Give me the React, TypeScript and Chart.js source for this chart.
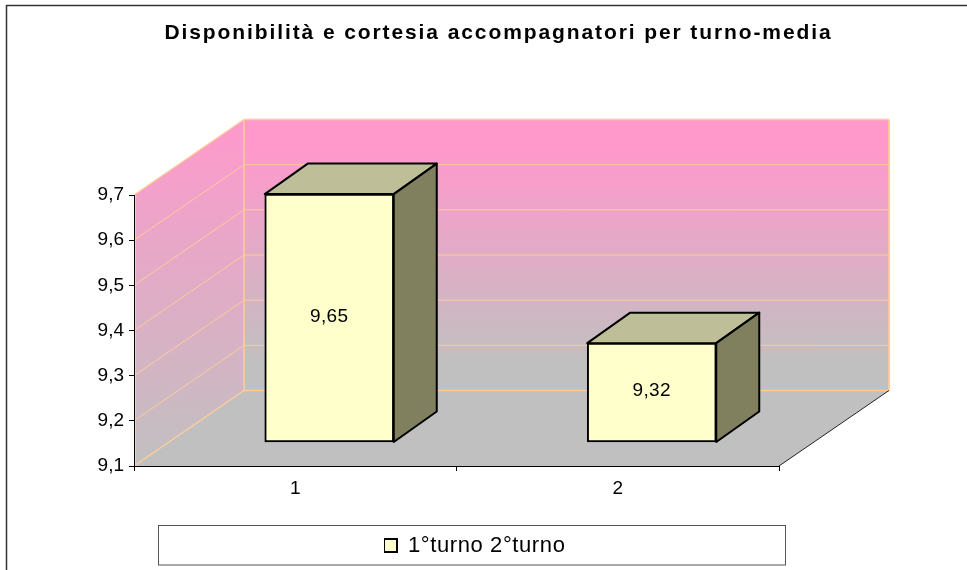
import React, { useEffect, useRef } from "react";
import { Chart, registerables } from "chart.js";

Chart.register(...registerables);

const categories = ["1", "2"];
const seriesName = "1°turno 2°turno";
const seriesValues = [9.65, 9.32];
const yMin = 9.1;
const yMax = 9.7;
const yStep = 0.1;
const chartTitle = "Disponibilità e cortesia accompagnatori per turno-media";

const FONT = "'Liberation Sans', Arial, sans-serif";
const ORANGE = "#FFCC99";
const WALL_DX = 110;
const WALL_DY = -75.5;
const BAR_SHIFT_X = 34;
const BAR_SHIFT_Y = -23.5;
const BAR_DX = 43;
const BAR_DY = -30.5;

function line(ctx: any, x1: number, y1: number, x2: number, y2: number, color: string, w: number) {
  ctx.beginPath();
  ctx.moveTo(x1, y1);
  ctx.lineTo(x2, y2);
  ctx.strokeStyle = color;
  ctx.lineWidth = w;
  ctx.stroke();
}

function poly(ctx: any, pts: number[][], fill: any) {
  ctx.beginPath();
  pts.forEach((p, i) => (i ? ctx.lineTo(p[0], p[1]) : ctx.moveTo(p[0], p[1])));
  ctx.closePath();
  ctx.fillStyle = fill;
  ctx.fill();
}

function wrapSpacing(box: any, spacing: string, ctx: any) {
  const original = box.draw.bind(box);
  box.draw = (...args: any[]) => {
    ctx.save();
    ctx.letterSpacing = spacing;
    original(...args);
    ctx.restore();
  };
}

const scene3d = {
  id: "scene3d",
  afterLayout(chart: any) {
    const legend = chart.legend;
    legend.left = 384;
    legend.right = 785;
    legend.top = 534.5;
    legend.bottom = 556.5;
    const title = chart.titleBlock;
    title.left = 0;
    title.right = 997;
  },
  beforeDraw(chart: any) {
    const { ctx, scales } = chart;
    const x = scales.x;
    const y = scales.y;
    const L = x.left;
    const R = x.right;
    const T = y.top;
    const B = y.bottom;
    ctx.save();
    ctx.letterSpacing = "0px";

    // chart frame
    line(ctx, 6, 5.5, 967, 5.5, "#333333", 1.5);
    line(ctx, 6.5, 5, 6.5, 570, "#333333", 1.5);

    // legend frame
    ctx.strokeStyle = "#555555";
    ctx.lineWidth = 1;
    ctx.strokeRect(158.5, 525.5, 627, 39.5);

    // floor
    poly(ctx, [[L, B], [R, B], [R + WALL_DX, B + WALL_DY], [L + WALL_DX, B + WALL_DY]], "#C0C0C0");

    // left wall
    const gl = ctx.createLinearGradient(0, T + WALL_DY, 0, B);
    gl.addColorStop(0, "#FF99CC");
    gl.addColorStop(1, "#C0C0C0");
    poly(ctx, [[L, T], [L + WALL_DX, T + WALL_DY], [L + WALL_DX, B + WALL_DY], [L, B]], gl);

    // back wall
    const gb = ctx.createLinearGradient(0, T + WALL_DY, 0, B + WALL_DY);
    gb.addColorStop(0, "#FF99CC");
    gb.addColorStop(0.12, "#FF99CC");
    gb.addColorStop(0.9, "#C0C0C0");
    gb.addColorStop(1, "#C0C0C0");
    poly(ctx, [[L + WALL_DX, T + WALL_DY], [R + WALL_DX, T + WALL_DY], [R + WALL_DX, B + WALL_DY], [L + WALL_DX, B + WALL_DY]], gb);

    // grid on the walls, following the y scale's ticks
    y.ticks.forEach((t: any, i: number) => {
      const py = y.getPixelForValue(t.value);
      const w = i === 0 || i === y.ticks.length - 1 ? 1.5 : 1;
      line(ctx, L, py, L + WALL_DX, py + WALL_DY, ORANGE, w);
      line(ctx, L + WALL_DX, py + WALL_DY, R + WALL_DX, py + WALL_DY, ORANGE, w);
    });
    line(ctx, L + WALL_DX, T + WALL_DY, L + WALL_DX, B + WALL_DY, ORANGE, 1.5);
    line(ctx, R + WALL_DX, T + WALL_DY, R + WALL_DX, B + WALL_DY, ORANGE, 2);
    line(ctx, L + 1.5, T, L + 1.5, B, ORANGE, 1);

    // right edge of floor
    line(ctx, R, B, R + WALL_DX, B + WALL_DY, "#222222", 1);
    ctx.restore();
  },
  beforeDatasetDraw(chart: any, args: any) {
    const { ctx } = chart;
    ctx.save();
    args.meta.data.forEach((bar: any) => {
      const left = bar.x - bar.width / 2 + BAR_SHIFT_X;
      const right = bar.x + bar.width / 2 + BAR_SHIFT_X;
      const top = bar.y + BAR_SHIFT_Y;
      const bottom = bar.base + BAR_SHIFT_Y;
      const topFace = [[left, top], [left + BAR_DX, top + BAR_DY], [right + BAR_DX, top + BAR_DY], [right, top]];
      const sideFace = [[right, top], [right + BAR_DX, top + BAR_DY], [right + BAR_DX, bottom + BAR_DY], [right, bottom]];
      [[topFace, "#BEBE99"], [sideFace, "#80805F"]].forEach(([pts, fill]: any) => {
        poly(ctx, pts, fill);
        ctx.strokeStyle = "#000000";
        ctx.lineWidth = 2;
        ctx.lineJoin = "round";
        ctx.stroke();
      });
    });
    ctx.translate(BAR_SHIFT_X, BAR_SHIFT_Y);
  },
  afterDatasetDraw(chart: any) {
    chart.ctx.restore();
  },
  afterDatasetsDraw(chart: any) {
    const { ctx } = chart;
    const meta = chart.getDatasetMeta(0);
    ctx.save();
    ctx.letterSpacing = "0.4px";
    ctx.font = `19px ${FONT}`;
    ctx.fillStyle = "#000000";
    ctx.textAlign = "center";
    ctx.textBaseline = "middle";
    meta.data.forEach((bar: any, i: number) => {
      const label = seriesValues[i].toFixed(2).replace(".", ",");
      const cy = (bar.y + bar.base) / 2 + BAR_SHIFT_Y - 1.5;
      ctx.fillText(label, bar.x + BAR_SHIFT_X, cy);
    });
    ctx.restore();
  },
};

export default function App() {
  const ref = useRef<HTMLCanvasElement>(null);
  useEffect(() => {
    const canvas = ref.current!;
    const chart = new Chart(canvas, {
      type: "bar",
      data: {
        labels: categories,
        datasets: [
          {
            label: seriesName,
            data: seriesValues,
            base: yMin,
            backgroundColor: "#FFFFCC",
            borderColor: "#000000",
            borderWidth: 2,
            borderSkipped: false,
            barThickness: 129,
            clip: false,
          } as any,
        ],
      },
      options: {
        responsive: false,
        animation: false,
        devicePixelRatio: 1,
        events: [],
        layout: { padding: { left: 0, right: 188, top: 0, bottom: 0 } },
        plugins: {
          tooltip: { enabled: false },
          title: {
            display: true,
            text: chartTitle,
            color: "#000000",
            font: { family: FONT, size: 21, weight: "bold", lineHeight: 1.2 },
            padding: { top: 21, bottom: 148.8 },
          },
          legend: {
            display: true,
            position: "bottom",
            align: "start",
            labels: {
              color: "#000000",
              font: { family: FONT, size: 22 },
              boxWidth: 13,
              boxHeight: 13,
              padding: 0,
            },
          },
        },
        scales: {
          x: {
            type: "category",
            border: { display: true, color: "#000000", width: 1 },
            grid: { display: true, offset: true, drawOnChartArea: false, drawTicks: true, tickLength: 5, color: "#000000" },
            ticks: { color: "#000000", font: { family: FONT, size: 19 }, padding: 6, maxRotation: 0 },
            afterFit(scale: any) {
              scale.height = 570 - 466 - scale.chart.legend.height;
            },
          },
          y: {
            type: "linear",
            min: yMin,
            max: yMax,
            border: { display: true, color: "#000000", width: 1 },
            grid: { display: true, drawOnChartArea: false, drawTicks: true, tickLength: 5, color: "#000000" },
            ticks: {
              stepSize: yStep,
              color: "#000000",
              font: { family: FONT, size: 19 },
              padding: 5,
              callback: (v: any) => Number(v).toFixed(1).replace(".", ","),
            },
            afterFit(scale: any) {
              scale.width = 134;
            },
          },
        },
      },
      plugins: [scene3d as any],
    } as any);
    const anyChart = chart as any;
    wrapSpacing(anyChart.titleBlock, "1.9px", anyChart.ctx);
    wrapSpacing(anyChart.legend, "0.6px", anyChart.ctx);
    wrapSpacing(anyChart.scales.x, "0.5px", anyChart.ctx);
    wrapSpacing(anyChart.scales.y, "0.5px", anyChart.ctx);
    chart.draw();
    return () => chart.destroy();
  }, []);
  return (
    <div style={{ position: "absolute", left: 0, top: 0, width: 967, height: 570, background: "#FFFFFF" }}>
      <canvas ref={ref} width={967} height={570} style={{ display: "block" }} />
    </div>
  );
}
